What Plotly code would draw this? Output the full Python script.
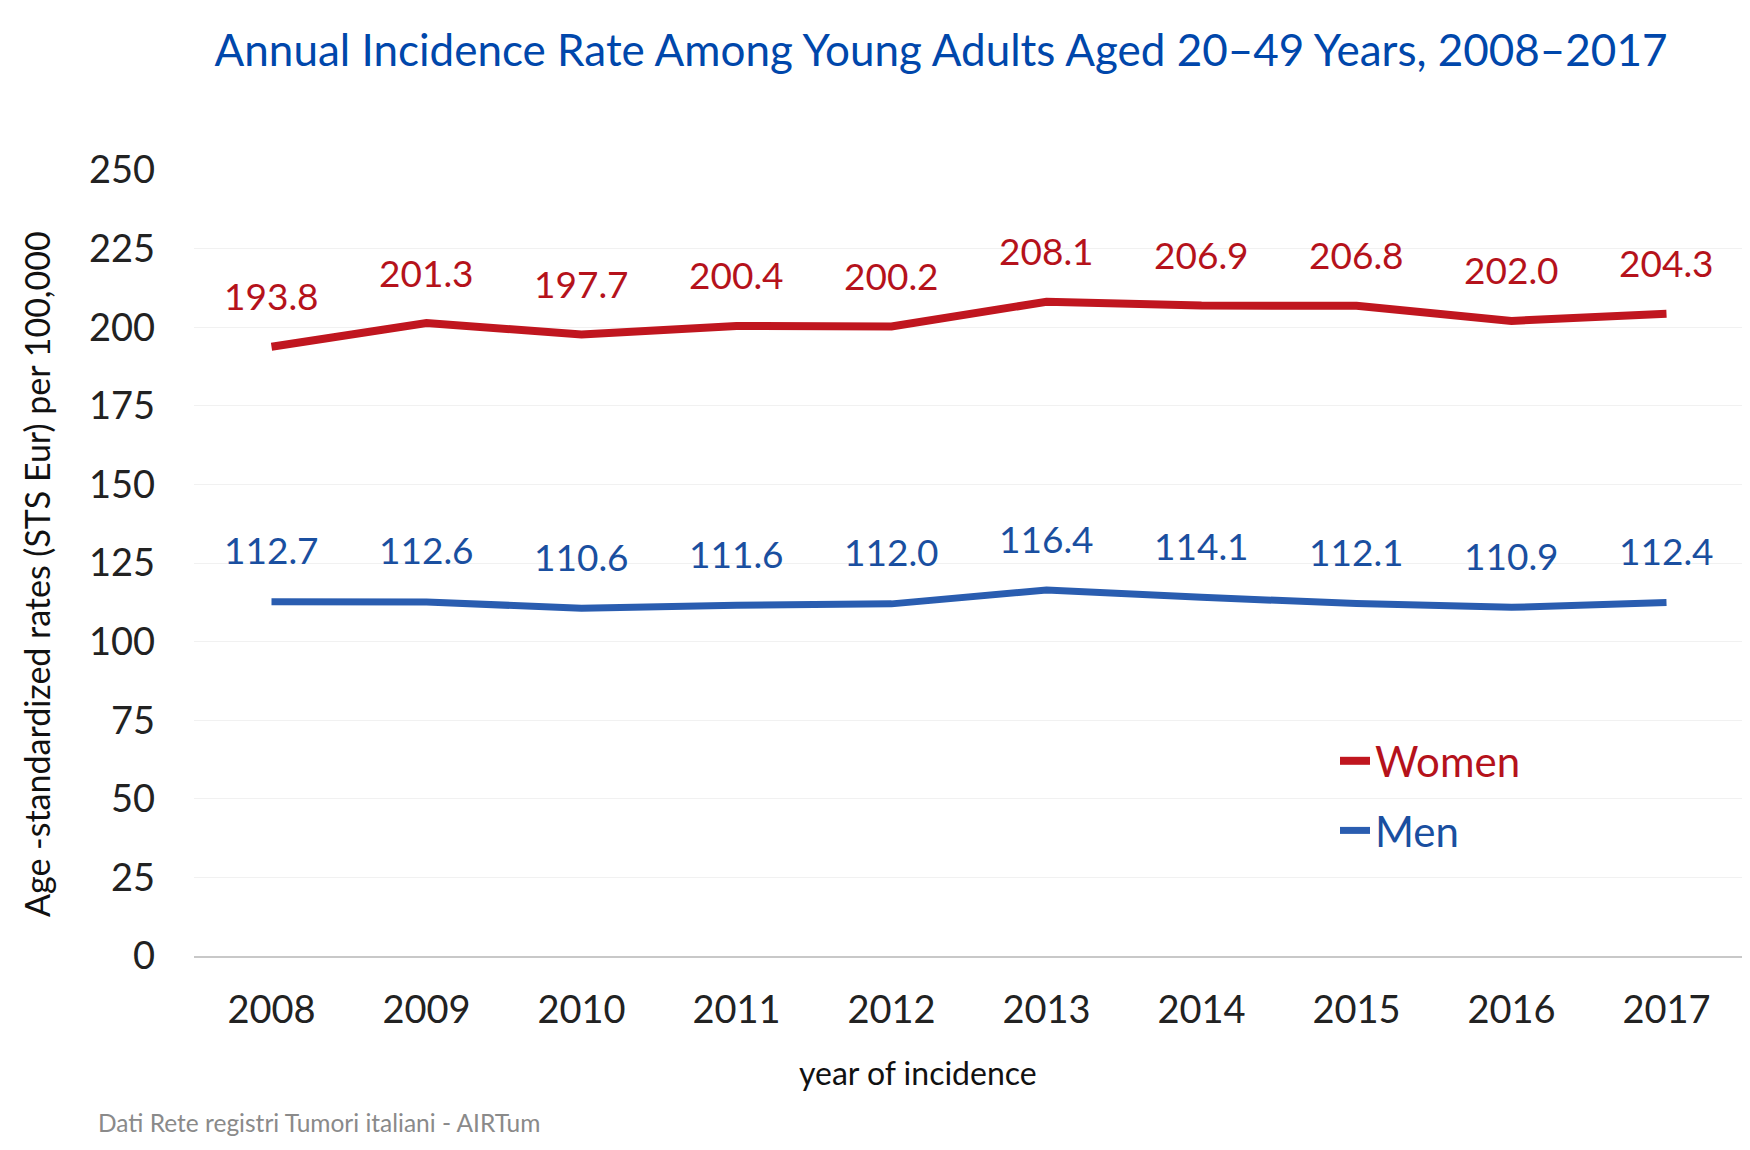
import plotly.graph_objects as go

years = ["2008", "2009", "2010", "2011", "2012", "2013", "2014", "2015", "2016", "2017"]
women = [193.8, 201.3, 197.7, 200.4, 200.2, 208.1, 206.9, 206.8, 202.0, 204.3]
men = [112.7, 112.6, 110.6, 111.6, 112.0, 116.4, 114.1, 112.1, 110.9, 112.4]
y_ticks = [0, 25, 50, 75, 100, 125, 150, 175, 200, 225, 250]

RED_LINE = "#C0161F"
BLUE_LINE = "#2A5DB0"
RED_TXT = "#B5121B"
BLUE_TXT = "#1A4FA0"
NUM_FONT = "Lato"
TXT_FONT = "Lato"

W, H = 1750, 1150
ML, MR, MT, MB = 186, 14, 162, 202
PW, PH = W - ML - MR, H - MT - MB


def px(x):
    return (x - ML) / PW


def py(y):
    return (H - MB - y) / PH


fig = go.Figure()
fig.add_trace(go.Scatter(
    x=years, y=women, mode="lines", name=f"<span style='color:{RED_TXT}'>Women</span>",
    line=dict(color=RED_LINE, width=8), legendgroup="w",
))
fig.add_trace(go.Scatter(
    x=years, y=men, mode="lines", name=f"<span style='color:{BLUE_TXT}'>Men</span>",
    line=dict(color=BLUE_LINE, width=7), legendgroup="m",
))

annotations = []
for i, v in enumerate(women):
    annotations.append(dict(x=i, y=v, xref="x", yref="y", text=f"{v:.1f}", showarrow=False,
                            yshift=51, font=dict(family=NUM_FONT, size=37, color=RED_TXT)))
for i, v in enumerate(men):
    annotations.append(dict(x=i, y=v, xref="x", yref="y", text=f"{v:.1f}", showarrow=False,
                            yshift=52, font=dict(family=NUM_FONT, size=37, color=BLUE_TXT)))

annotations.append(dict(x=px(910), y=py(1064), xref="paper", yref="paper",
                        text="year of incidence", showarrow=False, xanchor="center", yanchor="middle",
                        font=dict(family=TXT_FONT, size=32, color="#111111")))
annotations.append(dict(x=px(88), y=py(1114), xref="paper", yref="paper",
                        text="Dati Rete registri Tumori italiani - AIRTum", showarrow=False,
                        xanchor="left", yanchor="middle",
                        font=dict(family=TXT_FONT, size=24.5, color="#8a8a8a")))
annotations.append(dict(x=px(28), y=py(566), xref="paper", yref="paper", textangle=-90,
                        text="Age -standardized rates (STS Eur) per 100,000", showarrow=False,
                        xanchor="center", yanchor="middle",
                        font=dict(family=TXT_FONT, size=34, color="#111111")))

fig.update_layout(
    width=W, height=H,
    paper_bgcolor="white", plot_bgcolor="white",
    margin=dict(l=ML, r=MR, t=MT, b=MB, autoexpand=False),
    title=dict(text="Annual Incidence Rate Among Young Adults Aged 20–49 Years, 2008–2017",
               x=933 / W, xanchor="center", y=1 - 43 / H, yanchor="middle",
               font=dict(family=TXT_FONT, size=44, color="#0047AB")),
    showlegend=True,
    legend=dict(x=px(1327), y=py(719), xref="paper", yref="paper",
                xanchor="left", yanchor="top",
                font=dict(family=NUM_FONT, size=42), traceorder="grouped", tracegroupgap=12,
                bgcolor="rgba(0,0,0,0)", itemwidth=30),
    annotations=annotations,
)
fig.update_xaxes(type="category", range=[-0.5, 9.5], showgrid=False, showline=True,
                 linecolor="#c8c8c8", linewidth=2, ticks="", ticklabelstandoff=19,
                 tickfont=dict(family=NUM_FONT, size=38, color="#222222"), fixedrange=True)
fig.update_yaxes(range=[0, 250], tickvals=y_ticks, showgrid=True, gridcolor="#f1f1f1", gridwidth=1,
                 zeroline=False, showline=False, ticks="", ticklabelstandoff=38,
                 tickfont=dict(family=NUM_FONT, size=38, color="#222222"),
                 fixedrange=True)

fig.write_html("out.html")
